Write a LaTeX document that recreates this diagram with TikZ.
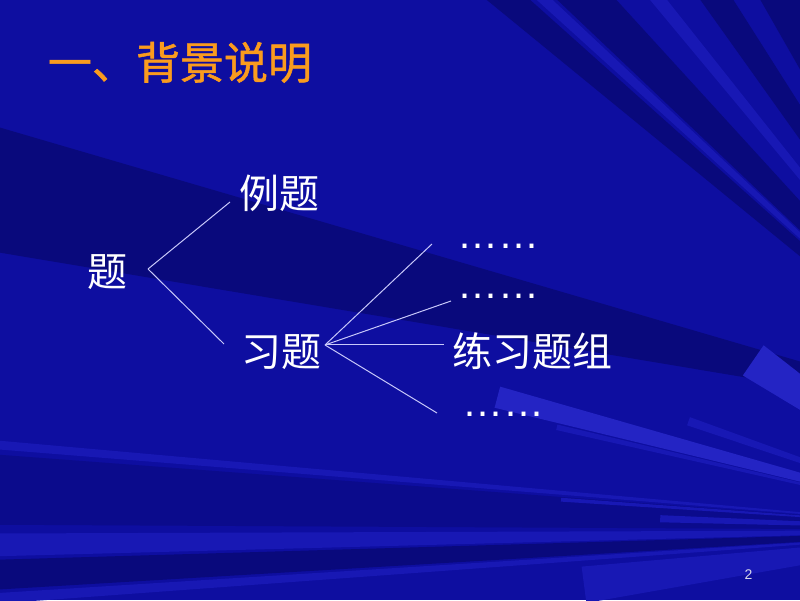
\documentclass[tikz,border=0pt]{standalone}
\usepackage{fontspec}
\newfontfamily\cjk{Noto Sans CJK SC}
\newfontfamily\cjkhead[FakeBold=1.2]{Noto Sans CJK SC}
\newfontfamily\dotfont{Liberation Sans}
\definecolor{bgblue}{RGB}{14,14,160}
\definecolor{raydark}{RGB}{9,9,124}
\definecolor{raymid}{RGB}{11,11,140}
\definecolor{raylight}{RGB}{24,24,180}
\definecolor{raybright}{RGB}{36,36,196}
\definecolor{headorange}{RGB}{250,155,30}
\definecolor{linklav}{RGB}{200,200,250}
\definecolor{pagegray}{RGB}{215,215,235}
\begin{document}
\begin{tikzpicture}[x=1pt,y=1pt,
  every node/.style={inner sep=0pt},
  lbl/.style={text=white,font=\cjk\fontsize{40}{48}\selectfont,anchor=base},
  dots/.style={text=white,font=\dotfont\fontsize{41}{48}\selectfont,anchor=base},
  link/.style={draw=linklav,line width=1pt}]
\useasboundingbox (0,0) rectangle (800,600);
\fill[bgblue] (0,0) rectangle (800,600);
\begin{scope}
\clip (0,0) rectangle (800,600);
% upper rays
\begin{scope}[shift={(1000,180)}]
\fill[raydark] (0,0) -- (115.5:1200) -- (119.7:1200) -- cycle;
\fill[raydark] (0,0) -- (122.4:1200) -- (125.5:1200) -- cycle;
\fill[raylight] (0,0) -- (128.4:1200) -- (129.8:1200) -- cycle;
\fill[raydark] (0,0) -- (132.4:1200) -- (136.5:1200) -- cycle;
\fill[raylight] (0,0) -- (136.8:1200) -- (137.8:1200) -- cycle;
\fill[raydark] (0,0) -- (138.2:1200) -- (140.7:1200) -- cycle;
\fill[raydark] (0,0) -- (163.7:1200) -- (170.5:1200) -- cycle;
\end{scope}
% lower rays
\begin{scope}[shift={(1000,70)}]
\fill[raylight] (0,0) -- (174.9:1200) -- (175.4:1200) -- cycle;
\fill[raymid] (0,0) -- (175.7:1200) -- (179.7:1200) -- cycle;
\fill[raylight] (0,0) -- (180.2:1200) -- (181.5:1200) -- cycle;
\fill[raydark] (0,0) -- (181.7:1200) -- (183.4:1200) -- cycle;
\fill[raylight] (0,0) -- (183.6:1200) -- (184.2:1200) -- cycle;
\fill[raylight] (0,0) -- (185:420) -- (190:420) -- cycle;
\fill[raybright] (164:160) -- (164:520) -- (166.4:520) -- (166.4:160) -- cycle;
\fill[raylight] (166.6:150) -- (166.6:455) -- (167.3:455) -- (167.3:150) -- cycle;
\fill[raylight] (175.8:100) -- (175.8:440) -- (176.3:440) -- (176.3:100) -- cycle;
\fill[raylight] (177.5:100) -- (177.5:340) -- (178.7:340) -- (178.7:100) -- cycle;
\fill[raylight] (160:200) -- (160:330) -- (161.5:330) -- (161.5:200) -- cycle;
\fill[raybright] (142:225) -- (142:300) -- (149:300) -- (149:225) -- cycle;
\end{scope}
\end{scope}

\node[text=headorange,font=\cjkhead\fontsize{44}{52}\selectfont,anchor=base] (head) at (180,521) {一、背景说明};

\node[lbl] (ti) at (107,313) {题};
\node[lbl] (liti) at (279,391) {例题};
\node[lbl] (xiti) at (281,233) {习题};
\node[lbl] (zu) at (532,233) {练习题组};
\node[dots] (d1) at (498,351) {……};
\node[dots] (d2) at (498,301) {……};
\node[dots] (d3) at (503,183) {……};

\coordinate (ti-r) at (148,331);
\coordinate (liti-l) at (230,398);
\coordinate (xiti-l) at (224,256);
\coordinate (xiti-r) at (325,255);
\coordinate (d1-l) at (432,356);
\coordinate (d2-l) at (451,299);
\coordinate (zu-l) at (444,255);
\coordinate (d3-l) at (437,187);
\draw[link] (ti-r) -- (liti-l);
\draw[link] (ti-r) -- (xiti-l);
\draw[link] (xiti-r) -- (d1-l);
\draw[link] (xiti-r) -- (d2-l);
\draw[link] (xiti-r) -- (zu-l);
\draw[link] (xiti-r) -- (d3-l);

\node[text=pagegray,font=\dotfont\fontsize{14}{16}\selectfont,anchor=base] (page) at (748.5,21) {2};
\end{tikzpicture}
\end{document}
